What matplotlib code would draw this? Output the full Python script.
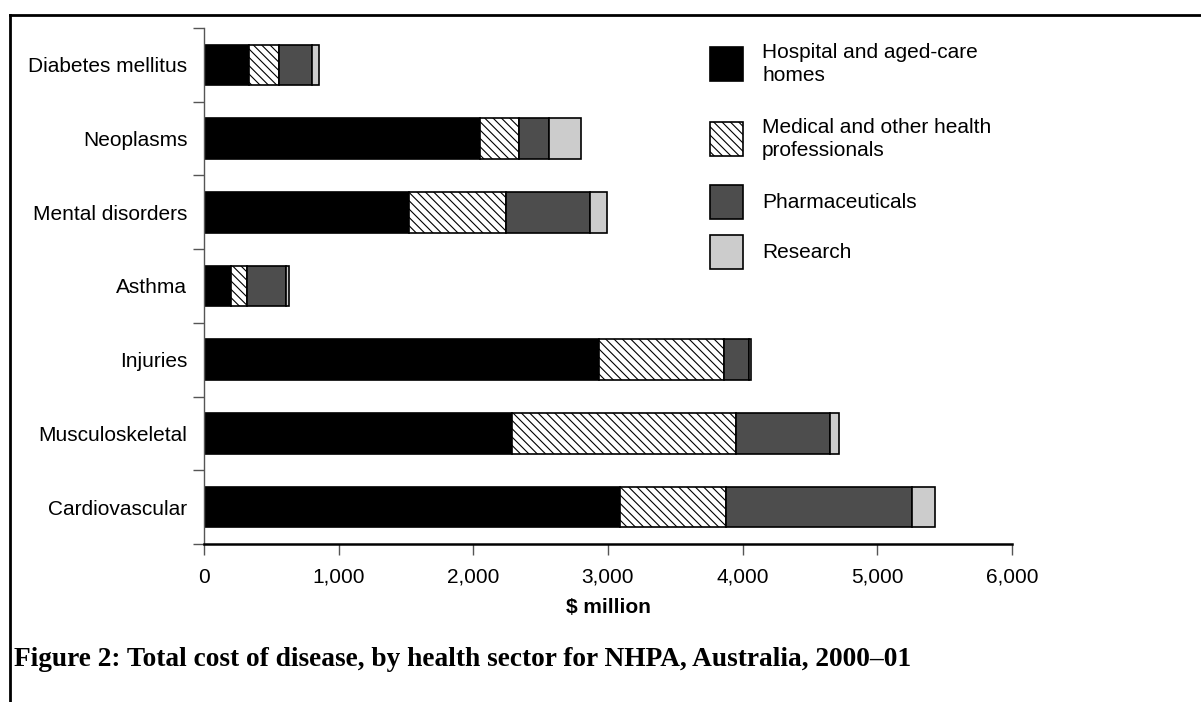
import numpy as np
import matplotlib.pyplot as plt
from matplotlib.patches import Rectangle
from matplotlib.lines import Line2D

plt.rcParams['font.family'] = ['Liberation Sans', 'DejaVu Sans']
plt.rcParams['hatch.linewidth'] = 0.8

# data ($ million)
diseases = ["Diabetes mellitus", "Neoplasms", "Mental disorders", "Asthma",
            "Injuries", "Musculoskeletal", "Cardiovascular"]
hospital = [333, 2051, 1520, 201, 2932, 2290, 3086]
medical = [226, 288, 726, 119, 926, 1663, 788]
pharma = [242, 226, 617, 292, 190, 694, 1386]
research = [56, 231, 126, 20, 17, 68, 167]

sectors = ["Hospital and aged-care\nhomes", "Medical and other health\nprofessionals",
           "Pharmaceuticals", "Research"]
colors = ["#000000", "#ffffff", "#4d4d4d", "#cccccc"]
hatches = [None, "\\\\\\\\", None, None]

W, H = 1201, 702
fig = plt.figure(figsize=(W / 100, H / 100), dpi=100)
ax = fig.add_axes([204 / W, 1 - 544 / H, 808 / W, 516 / H])

y = np.arange(len(diseases))
left = np.zeros(len(diseases))
for vals, col, hat in zip([hospital, medical, pharma, research], colors, hatches):
    ax.barh(y, vals, left=left, height=0.55, color=col, hatch=hat,
            edgecolor="black", linewidth=1.2)
    left += np.array(vals)

ax.set_xlim(0, 6000)
ax.set_ylim(len(diseases) - 0.5, -0.5)
ax.set_xticks(np.arange(0, 6001, 1000))
ax.set_xticklabels([f"{v:,}" for v in range(0, 6001, 1000)], fontsize=15)
ax.set_yticks(y)
ax.set_yticklabels(diseases, fontsize=15)
ax.set_yticks(np.arange(-0.5, len(diseases)), minor=True)
ax.tick_params(axis="y", which="major", length=0, pad=12)
ax.tick_params(axis="y", which="minor", length=8, width=1, color="#555555")
ax.tick_params(axis="x", length=8, width=1, color="#555555", pad=9)

for s in ["top", "right"]:
    ax.spines[s].set_visible(False)
ax.spines["left"].set_color("#555555")
ax.spines["left"].set_linewidth(1)
ax.spines["bottom"].set_linewidth(1.8)

ax.set_xlabel("$ million", fontsize=15, fontweight="bold", labelpad=8)

# legend drawn by hand to keep the uneven spacing
leg_y = [64, 139, 202, 252]
for lab, col, hat, yc in zip(sectors, colors, hatches, leg_y):
    fig.add_artist(Rectangle((710 / W, 1 - (yc + 17) / H), 33 / W, 34 / H,
                             facecolor=col, hatch=hat, edgecolor="black",
                             linewidth=1.2, transform=fig.transFigure))
    fig.text(762 / W, 1 - yc / H, lab, fontsize=15, va="center", ha="left",
             linespacing=1.3)

# frame lines
fig.add_artist(Line2D([10 / W, 10 / W], [0, 1 - 15 / H], color="black", linewidth=2,
                      transform=fig.transFigure))
fig.add_artist(Line2D([10 / W, 1], [1 - 15 / H, 1 - 15 / H], color="black", linewidth=2,
                      transform=fig.transFigure))

fig.text(14 / W, 1 - 660 / H, "Figure 2: Total cost of disease, by health sector for NHPA, Australia, 2000\u201301",
         fontsize=19.7, fontweight="bold", family=["Liberation Serif"], va="center", ha="left")

fig.savefig("out.png", dpi=100)
